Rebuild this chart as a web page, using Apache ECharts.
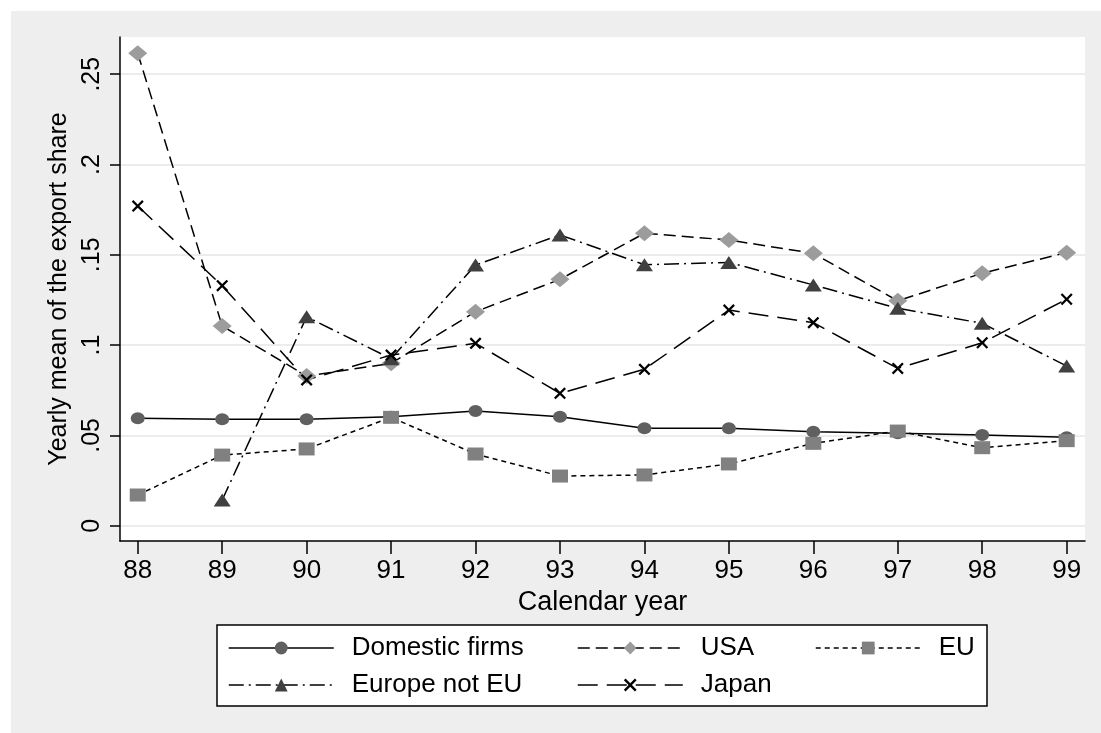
<!DOCTYPE html>
<html>
<head>
<meta charset="utf-8">
<script src="https://cdn.jsdelivr.net/npm/echarts@6/dist/echarts.min.js"></script>
<style>
  html, body { margin: 0; padding: 0; background: #ffffff; }
  #chart { width: 1101px; height: 733px; }
</style>
</head>
<body>
<div id="chart"></div>
<script>
// Calendar years (two-digit) on the x axis
const years = [88, 89, 90, 91, 92, 93, 94, 95, 96, 97, 98, 99];

// Yearly mean of the export share, by ownership group
const domesticFirms = [0.0595, 0.059, 0.059, 0.0603, 0.0635, 0.0603, 0.054, 0.054, 0.052, 0.0512, 0.0502, 0.049];
const usa           = [0.2616, 0.1106, 0.0829, 0.0899, 0.1185, 0.1364, 0.1619, 0.1582, 0.1508, 0.1245, 0.1398, 0.1512];
const eu            = [0.017, 0.0391, 0.0425, 0.060, 0.0397, 0.0275, 0.0281, 0.0342, 0.0456, 0.0524, 0.0432, 0.0471];
const europeNotEU   = [null, 0.0142, 0.1157, 0.0925, 0.1443, 0.1610, 0.1445, 0.1458, 0.1333, 0.1204, 0.1121, 0.0884];
const japan         = [0.177, 0.1329, 0.0807, 0.0945, 0.101, 0.0733, 0.0866, 0.1194, 0.1124, 0.0871, 0.1013, 0.1254];

// Axis ticks and their printed labels
const xTickValues = [88, 89, 90, 91, 92, 93, 94, 95, 96, 97, 98, 99];
const yTickValues = [0, 0.05, 0.1, 0.15, 0.2, 0.25];
const yTickLabels = ['0', '.05', '.1', '.15', '.2', '.25'];

const FONT = "'Liberation Sans', Arial, Helvetica, sans-serif";

// Filled "x" outline so the cross marker renders as a solid shape
const CROSS = 'path://M0,1.6L1.6,0L6,4.4L10.4,0L12,1.6L7.6,6L12,10.4L10.4,12L6,7.6L1.6,12L0,10.4L4.4,6Z';

const seriesDefs = [
  { name: 'Domestic firms', values: domesticFirms, symbol: 'circle',   size: [14, 12], color: '#606060', dash: 'solid' },
  { name: 'USA',            values: usa,           symbol: 'diamond',  size: [19, 16], color: '#9c9c9c', dash: [12, 6] },
  { name: 'EU',             values: eu,            symbol: 'rect',     size: [16, 13], color: '#808080', dash: [5, 4] },
  { name: 'Europe not EU',  values: europeNotEU,   symbol: 'triangle', size: [17, 13], color: '#404040', dash: [15, 5, 2, 5] },
  { name: 'Japan',          values: japan,         symbol: CROSS,      size: [12, 12], color: '#000000', dash: [20, 9] }
];

// Legend slot for each series: [left of key line, vertical centre of row]
const legendSlots = [[228, 648], [577, 648], [815, 648], [228, 685], [577, 685]];

const series = seriesDefs.map(function (d) {
  return {
    name: d.name,
    type: 'line',
    data: years.map(function (y, i) { return [y, d.values[i] == null ? '-' : d.values[i]]; }),
    symbol: d.symbol,
    symbolSize: d.size,
    showSymbol: true,
    connectNulls: false,
    lineStyle: { color: '#000000', width: 1.5, type: d.dash },
    itemStyle: { color: d.color, borderWidth: 0 },
    emphasis: { disabled: true },
    animation: false
  };
});

const legends = seriesDefs.map(function (d, i) {
  return {
    data: [{
      name: d.name,
      lineStyle: { color: '#000000', width: 1.5, type: d.dash },
      itemStyle: { color: d.color }
    }],
    left: legendSlots[i][0],
    top: legendSlots[i][1] - 15,
    padding: 0,
    itemWidth: 105,
    itemHeight: 16,
    selectedMode: false,
    textStyle: { fontFamily: FONT, fontSize: 26, color: '#000000', padding: [0, 0, 0, 13], lineHeight: 30 }
  };
});

const chart = echarts.init(document.getElementById('chart'), null, { renderer: 'canvas' });

chart.setOption({
  backgroundColor: '#ffffff',
  animation: false,
  textStyle: { fontFamily: FONT },
  graphic: [
    { type: 'rect', z: -10, shape: { x: 11, y: 11, width: 1090, height: 722 }, style: { fill: '#eeeeee' } },
    { type: 'rect', z: -5, shape: { x: 217, y: 625, width: 770, height: 81 }, style: { fill: '#ffffff', stroke: '#000000', lineWidth: 1.5 } }
  ],
  grid: {
    left: 120, right: 16, top: 37, bottom: 192,
    show: true, backgroundColor: '#ffffff', borderWidth: 0
  },
  xAxis: {
    type: 'value',
    min: 87.79, max: 99.217,
    name: 'Calendar year',
    nameLocation: 'middle',
    nameGap: 43,
    nameTextStyle: { fontFamily: FONT, fontSize: 27, color: '#000000' },
    axisLine: { show: true, onZero: false, lineStyle: { color: '#000000', width: 1.5 } },
    axisTick: { show: true, length: 13, customValues: xTickValues, lineStyle: { color: '#000000', width: 1.5 } },
    axisLabel: { customValues: xTickValues, margin: 17, fontFamily: FONT, fontSize: 26, color: '#000000',
                 formatter: function (v) { return String(Math.round(v)); } },
    splitLine: { show: false }
  },
  yAxis: {
    type: 'value',
    min: -0.00847, max: 0.2706,
    name: 'Yearly mean of the export share',
    nameLocation: 'middle',
    nameRotate: 90,
    nameGap: 44,
    nameTextStyle: { fontFamily: FONT, fontSize: 25, color: '#000000' },
    axisLine: { show: true, onZero: false, lineStyle: { color: '#000000', width: 1.5 } },
    axisTick: { show: true, length: 10, customValues: yTickValues, lineStyle: { color: '#000000', width: 1.5 } },
    axisLabel: { customValues: yTickValues, rotate: 90, margin: 15, fontFamily: FONT, fontSize: 25, color: '#000000',
                 formatter: function (v) {
                   const i = yTickValues.findIndex(function (t) { return Math.abs(t - v) < 1e-9; });
                   return i >= 0 ? yTickLabels[i] : '';
                 } },
    splitLine: { show: true, lineStyle: { color: '#e6e6e6', width: 1.5 } }
  },
  legend: legends,
  series: series
});
</script>
</body>
</html>
